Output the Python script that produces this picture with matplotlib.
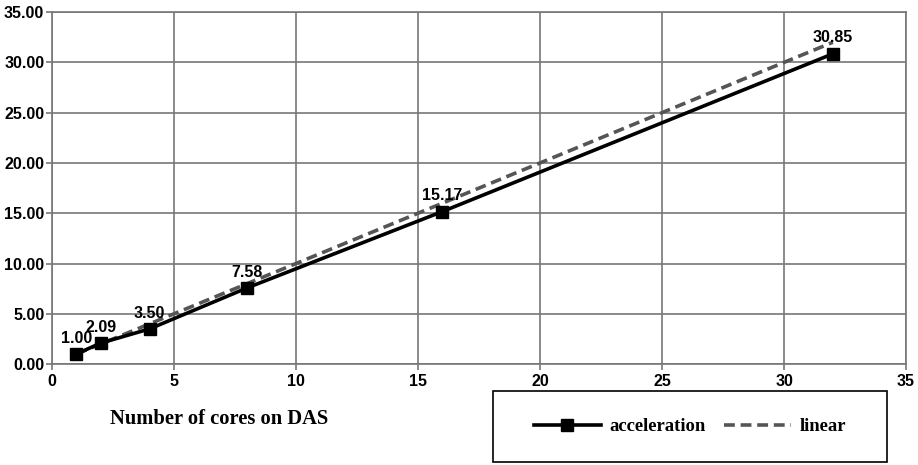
import matplotlib
matplotlib.use("Agg")
import matplotlib.pyplot as plt
from matplotlib.lines import Line2D

cores = [1, 2, 4, 8, 16, 32]
acceleration = [1.00, 2.09, 3.50, 7.58, 15.17, 30.85]
linear = [1, 2, 4, 8, 16, 32]
labels = ["1.00", "2.09", "3.50", "7.58", "15.17", "30.85"]
x_ticks = [0, 5, 10, 15, 20, 25, 30, 35]
y_ticks = [0, 5, 10, 15, 20, 25, 30, 35]

fig = plt.figure(figsize=(9.18, 4.65), dpi=100)
ax = fig.add_axes([0.0566, 0.217, 0.9304, 0.757])

ax.plot(linear, linear, color="#555555", lw=2.6, ls=(0, (3, 1.6)), zorder=3)
ax.plot(cores, acceleration, color="black", lw=2.6, marker="s", ms=9, zorder=4)

for x, y, t in zip(cores, acceleration, labels):
    ax.annotate(t, (x, y), xytext=(0, 6), textcoords="offset points",
                ha="center", va="bottom", fontsize=11.5, fontweight="bold",
                family="Liberation Sans", color="black", zorder=5)

ax.set_xlim(0, 35)
ax.set_ylim(0, 35)
ax.set_xticks(x_ticks)
ax.set_yticks(y_ticks)
ax.set_xticklabels([str(v) for v in x_ticks])
ax.set_yticklabels([f"{v:.2f}" for v in y_ticks])
for lab in ax.get_xticklabels() + ax.get_yticklabels():
    lab.set_family("Liberation Sans")
    lab.set_fontweight("bold")
    lab.set_fontsize(11.5)
ax.tick_params(direction="out", length=4, color="#777777", width=1.2, pad=1.5)
ax.tick_params(axis="x", pad=3)
ax.grid(True, color="#777777", lw=1.2)
ax.set_axisbelow(True)
for s in ax.spines.values():
    s.set_color("#777777")
    s.set_linewidth(1.2)

fig.text(0.12, 0.1, "Number of cores on DAS", family="Liberation Serif",
         fontweight="bold", fontsize=14.8, va="center", ha="left")

handles = [Line2D([], [], color="black", lw=2.6, marker="s", ms=8),
           Line2D([], [], color="#555555", lw=2.6, ls=(0, (3, 1.6)))]
leg = fig.legend(handles, ["acceleration", "linear"], loc="center",
                 bbox_to_anchor=(0.537, 0.0065, 0.429, 0.152), ncol=2,
                 frameon=False,
                 prop={"family": "Liberation Serif", "weight": "bold", "size": 13.4},
                 handlelength=3.6, columnspacing=1.0, handletextpad=0.45,
                 borderaxespad=0)
legend_box = plt.Rectangle((0.537, 0.0065), 0.429, 0.152, transform=fig.transFigure,
                           fill=False, edgecolor="black", lw=1.2)
fig.add_artist(legend_box)

fig.savefig("out.png", dpi=100)
